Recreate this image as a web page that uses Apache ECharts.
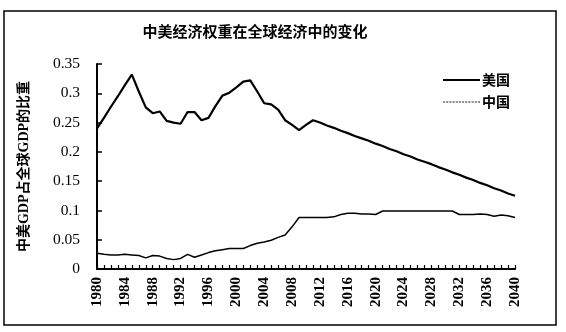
<!DOCTYPE html>
<html>
<head>
<meta charset="utf-8">
<script src="https://cdn.jsdelivr.net/npm/echarts@6/dist/echarts.min.js"></script>
<style>
  html, body { margin: 0; padding: 0; background: #fff; }
  #chart { width: 566px; height: 332px; }
</style>
</head>
<body>
<div id="chart"></div>
<script>
// Years on the horizontal axis
const years = [];
for (let y = 1980; y <= 2040; y++) years.push(String(y));

// Share of world GDP, United States
const usShare = [
  0.240, 0.258, 0.277, 0.295, 0.314, 0.332, 0.303, 0.276, 0.266, 0.269,
  0.253, 0.250, 0.248, 0.268, 0.268, 0.254, 0.258, 0.278, 0.296, 0.301,
  0.310, 0.320, 0.322, 0.303, 0.283, 0.281, 0.272, 0.254, 0.246, 0.237,
  0.246, 0.254, 0.250, 0.245, 0.241, 0.236, 0.232, 0.227, 0.223, 0.219,
  0.214, 0.210, 0.205, 0.201, 0.196, 0.192, 0.187, 0.183, 0.179, 0.174,
  0.170, 0.165, 0.161, 0.156, 0.152, 0.147, 0.143, 0.138, 0.134, 0.129,
  0.125
];

// Share of world GDP, China
const cnShare = [
  0.027, 0.025, 0.024, 0.024, 0.025, 0.024, 0.023, 0.019, 0.023, 0.022,
  0.018, 0.016, 0.018, 0.025, 0.020, 0.024, 0.028, 0.031, 0.033, 0.035,
  0.035, 0.035, 0.040, 0.044, 0.046, 0.049, 0.054, 0.058, 0.072, 0.088,
  0.088, 0.088, 0.088, 0.088, 0.089, 0.093, 0.095, 0.095, 0.094, 0.094,
  0.093, 0.099, 0.099, 0.099, 0.099, 0.099, 0.099, 0.099, 0.099, 0.099,
  0.099, 0.099, 0.093, 0.093, 0.093, 0.094, 0.093, 0.090, 0.092, 0.091,
  0.088
];

// Value-axis tick labels
const yTicks = [0, 0.05, 0.1, 0.15, 0.2, 0.25, 0.3, 0.35];

const serif = '"Liberation Serif", "Noto Sans CJK SC", serif';
const cjk = '"Noto Sans CJK SC", sans-serif';

// Legend keys: a solid bar and a row of short dashes
const solidKey = 'path://M0,0h36v2h-36z';
let dashKey = 'path://';
for (let i = 0; i < 12; i++) dashKey += 'M' + (i * 3) + ',0h2v1h-2z';

const chart = echarts.init(document.getElementById('chart'), null, { renderer: 'canvas' });
chart.setOption({
  backgroundColor: '#fff',
  animation: false,
  title: {
    text: '中美经济权重在全球经济中的变化',
    left: 250,
    textAlign: 'center',
    top: 19,
    textStyle: { fontFamily: cjk, fontSize: 15, fontWeight: 'bold', color: '#000' }
  },
  legend: {
    orient: 'vertical',
    left: 438,
    top: 68,
    itemWidth: 37,
    itemGap: 8,
    textStyle: { fontFamily: cjk, fontSize: 14, fontWeight: 'bold', color: '#000', padding: [0, 0, 0, -3] },
    data: [
      { name: '美国', icon: solidKey, itemStyle: { color: '#000' } },
      { name: '中国', icon: dashKey, itemStyle: { color: '#222' } }
    ]
  },
  grid: { left: 97, right: 51, top: 64, bottom: 63 },
  xAxis: {
    type: 'category',
    data: years,
    boundaryGap: false,
    axisLine: { lineStyle: { color: '#000', width: 2 } },
    axisTick: { show: true, inside: true, interval: 0, length: 4, lineStyle: { color: '#000', width: 1.2 } },
    axisLabel: {
      interval: 3,
      rotate: 90,
      margin: 8,
      fontFamily: serif,
      fontSize: 15,
      fontWeight: 'bold',
      color: '#000'
    },
    splitLine: { show: false }
  },
  yAxis: {
    type: 'value',
    min: yTicks[0],
    max: yTicks[yTicks.length - 1],
    interval: 0.05,
    name: '中美GDP占全球GDP的比重',
    nameLocation: 'middle',
    nameGap: 66,
    nameTextStyle: { fontFamily: serif, fontSize: 14, fontWeight: 'bold', color: '#000' },
    axisLine: { show: true, lineStyle: { color: '#000', width: 2 } },
    axisTick: { show: true, inside: true, length: 5, lineStyle: { color: '#000', width: 1.5 } },
    axisLabel: {
      margin: 17,
      fontFamily: serif,
      fontSize: 15.5,
      color: '#000',
      formatter: v => String(+v.toFixed(2))
    },
    splitLine: { show: false }
  },
  series: [
    {
      name: '美国',
      type: 'line',
      data: usShare,
      symbol: 'none',
      lineStyle: { color: '#000', width: 2.2 },
      itemStyle: { color: '#000' }
    },
    {
      name: '中国',
      type: 'line',
      data: cnShare,
      symbol: 'none',
      lineStyle: { color: '#000', width: 1.5 },
      itemStyle: { color: '#000' }
    }
  ],
  graphic: [
    {
      type: 'rect',
      shape: { x: 4, y: 11, width: 552, height: 314 },
      style: { fill: 'none', stroke: '#000', lineWidth: 1.5 },
      silent: true
    }
  ]
});
</script>
</body>
</html>
